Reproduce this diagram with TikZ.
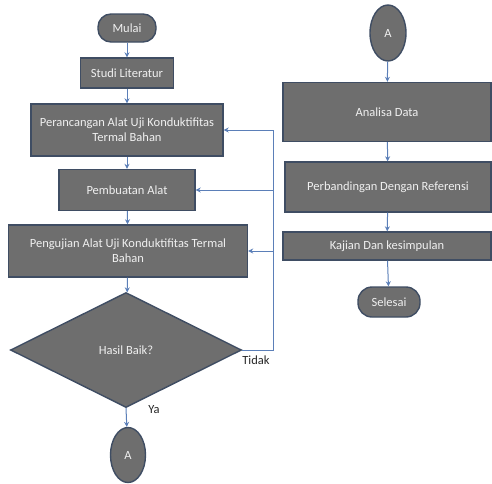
\documentclass[tikz,border=0pt]{standalone}
\usepackage{fontspec}
\setmainfont{Carlito}
\usetikzlibrary{shapes.geometric,arrows.meta}
\definecolor{boxfill}{HTML}{6E6E6E}
\definecolor{boxline}{HTML}{3F4D63}
\definecolor{arrcol}{HTML}{5B7FB8}
\definecolor{txtcol}{HTML}{F0F0F0}
\begin{document}
\begin{tikzpicture}[x=1pt,y=-1pt,
  base/.style={draw=boxline,line width=1.4pt,fill=boxfill,text=txtcol,font=\fontsize{12.5}{15}\selectfont,align=center,inner sep=1pt},
  procbox/.style={base,rectangle},
  termbox/.style={base,rectangle,rounded corners=13pt},
  conn/.style={base,ellipse,inner sep=0pt},
  decide/.style={base,diamond,aspect=2,inner sep=0pt},
  arr/.style={draw=arrcol,line width=1pt,-{Stealth[length=5pt,width=5pt]}},
  lbl/.style={font=\fontsize{12.5}{15}\selectfont,text=black!85}]
\useasboundingbox (0,0) rectangle (492,483);
% left column
\node[termbox,minimum width=58pt,minimum height=28pt] (mulai) at (127,28) {Mulai};
\node[procbox,minimum width=93pt,minimum height=30pt] (studi) at (127,73) {Studi Literatur};
\node[procbox,minimum width=192pt,minimum height=52pt] (per) at (127,130) {Perancangan Alat Uji Konduktifitas\\Termal Bahan};
\node[procbox,minimum width=136pt,minimum height=41pt] (pemb) at (127,190) {Pembuatan Alat};
\node[procbox,minimum width=239pt,minimum height=52pt] (peng) at (128,251) {Pengujian Alat Uji Konduktifitas Termal\\Bahan};
\node[decide,minimum width=231pt,minimum height=115pt] (dia) at (126,350) {Hasil Baik?};
\node[conn,minimum width=35pt,minimum height=55pt] (a1) at (128,455) {A};
% right column
\node[conn,minimum width=36pt,minimum height=56pt] (a2) at (388,33) {A};
\node[procbox,minimum width=208pt,minimum height=59pt] (anal) at (387,112) {Analisa Data};
\node[procbox,minimum width=206pt,minimum height=50pt] (banding) at (388,187) {Perbandingan Dengan Referensi};
\node[procbox,minimum width=208pt,minimum height=28pt] (kaji) at (387,246) {Kajian Dan kesimpulan};
\node[termbox,minimum width=62pt,minimum height=30pt,rounded corners=14pt] (selesai) at (389,302) {Selesai};
% labels
\node[lbl] (tidak) at (256,360) {Tidak};
\node[lbl] (ya) at (154,410) {Ya};
\coordinate (loopx) at (273,0);
% connectors
\draw[arr] (mulai) -- (studi);
\draw[arr] (studi) -- (per);
\draw[arr] (per) -- (pemb);
\draw[arr] (pemb) -- (peng);
\draw[arr] (peng) -- (dia);
\draw[arr] (dia.south) -- (a1);
\draw[arr] (dia.east) -- (dia.east -| loopx) |- (per.east);
\draw[arr] (pemb.east -| loopx) -- (pemb.east);
\draw[arr] (peng.east -| loopx) -- (peng.east);
\draw[arr] (a2) -- (anal);
\draw[arr] (anal) -- (banding);
\draw[arr] (banding) -- (kaji);
\draw[arr] (kaji) -- (selesai);
\end{tikzpicture}
\end{document}
